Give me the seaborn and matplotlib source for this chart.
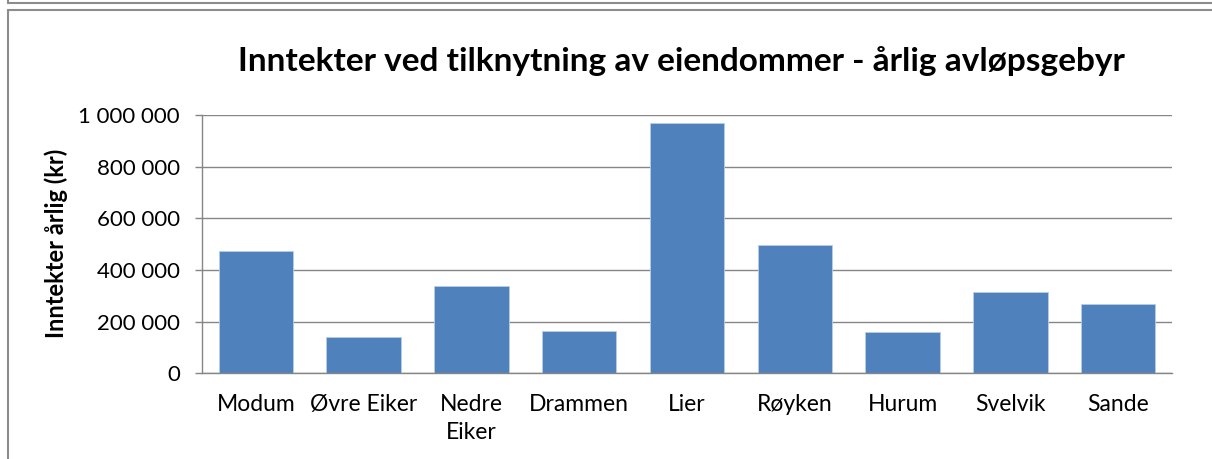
import matplotlib
matplotlib.use("Agg")
import matplotlib.pyplot as plt
from matplotlib.lines import Line2D
from matplotlib.ticker import FuncFormatter
import seaborn as sns

# Kommuner og årlige inntekter (kr), lest av figuren
kommuner = ["Modum", "Øvre Eiker", "Nedre Eiker", "Drammen", "Lier",
            "Røyken", "Hurum", "Svelvik", "Sande"]
inntekter = [475000, 139000, 338000, 162000, 968000,
             496000, 159000, 316000, 267000]
tick_labels = ["Modum", "Øvre Eiker", "Nedre\nEiker", "Drammen", "Lier",
               "Røyken", "Hurum", "Svelvik", "Sande"]
y_ticks = [0, 200000, 400000, 600000, 800000, 1000000]

sns.set_theme(style="white")
plt.rcParams["font.family"] = ["Lato", "DejaVu Sans"]
plt.rcParams["text.color"] = "black"

W, H = 1212, 459
fig = plt.figure(figsize=(W / 100, H / 100), dpi=100)
ax = fig.add_axes([202 / W, 1 - 373.3 / H, (1172 - 202) / W, (373.3 - 115) / H])

sns.barplot(
    x=kommuner,
    y=inntekter,
    color="#4F81BD",
    saturation=1,
    width=0.69,
    edgecolor="#B9CDE5",
    linewidth=0.6,
    ax=ax
)

ax.set_ylim(0, 1000000)
ax.set_xlim(-0.5, len(kommuner) - 0.5)
ax.set_yticks(y_ticks)
ax.yaxis.set_major_formatter(FuncFormatter(lambda v, p: f"{int(v):,}".replace(",", " ")))
ax.set_xticks(range(len(kommuner)))
ax.set_xticklabels(tick_labels, fontsize=16.5, color="black", linespacing=1.4,
                   va="top")
ax.tick_params(axis="y", labelsize=16, labelcolor="black", length=5,
               width=1, color="#868686", direction="out", left=True, pad=11)
ax.tick_params(axis="x", length=0, pad=15)

ax.grid(axis="y", color="#868686", linewidth=1)
ax.set_axisbelow(True)
for side in ["top", "right"]:
    ax.spines[side].set_visible(False)
for side in ["left", "bottom"]:
    ax.spines[side].set_color("#868686")
    ax.spines[side].set_linewidth(1)
ax.set_ylabel("")

fig.text(56 / W, 1 - 243 / H, "Inntekter årlig (kr)", rotation=90,
         ha="center", va="center", fontsize=17, fontweight="bold", color="black")

fig.text(681 / W, 1 - 61 / H,
         "Inntekter ved tilknytning av eiendommer - årlig avløpsgebyr",
         ha="center", va="center", fontsize=24, fontweight="bold", color="black")

# rammer rundt diagrammet
frame = "#8C8C8C"
fig.add_artist(Line2D([8 / W, 8 / W], [1, 1 - 3 / H], color=frame, lw=1.5, transform=fig.transFigure))
fig.add_artist(Line2D([8 / W, 1], [1 - 3 / H, 1 - 3 / H], color=frame, lw=1.5, transform=fig.transFigure))
fig.add_artist(Line2D([8 / W, 1], [1 - 10 / H, 1 - 10 / H], color=frame, lw=1.5, transform=fig.transFigure))
fig.add_artist(Line2D([8 / W, 8 / W], [1 - 10 / H, 0], color=frame, lw=1.5, transform=fig.transFigure))

fig.savefig("out.png", dpi=100)
